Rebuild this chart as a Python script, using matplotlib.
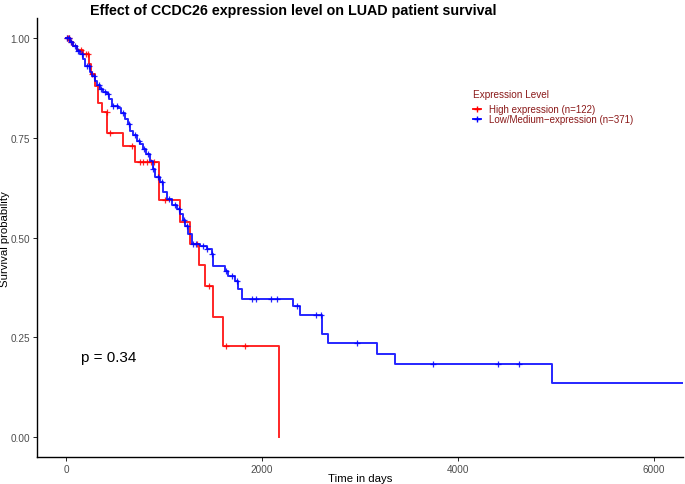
import numpy as np
import matplotlib
matplotlib.use("Agg")
import matplotlib.pyplot as plt
from matplotlib.lines import Line2D

plt.rcParams['font.family'] = ['Liberation Sans', 'DejaVu Sans']

# high expression group: event times (days) and survival after each step
high_t = [0, 41, 71, 112, 177, 237, 255, 296, 323, 364, 421, 584, 704,
          949, 1166, 1265, 1357, 1418, 1497, 1599, 2173]
high_s = [1.0, 0.99, 0.98, 0.97, 0.96, 0.935, 0.91, 0.88, 0.837, 0.815,
          0.762, 0.729, 0.690, 0.593, 0.540, 0.483, 0.431, 0.378, 0.302,
          0.228, 0.0]
high_cens = [8, 20, 35, 55, 150, 200, 220, 270, 415, 449, 670, 755, 790,
             830, 870, 900, 1010, 1333, 1462, 1633, 1827]

# low/medium expression group
low_t = [0, 41, 71, 109, 143, 177, 194, 245, 270, 296, 321, 347, 378, 415,
         439, 466, 534, 561, 602, 628, 653, 684, 721, 755, 789, 821, 857,
         883, 908, 959, 993, 1028, 1079, 1130, 1163, 1189, 1214, 1248, 1283,
         1367, 1436, 1487, 1503, 1622, 1656, 1724, 1758, 1793, 2319, 2388,
         2609, 2677, 3170, 3357, 4956]
low_s = [1.0, 0.989, 0.979, 0.968, 0.960, 0.947, 0.930, 0.914, 0.905, 0.893,
         0.882, 0.872, 0.865, 0.860, 0.847, 0.830, 0.824, 0.812, 0.797,
         0.784, 0.768, 0.757, 0.743, 0.734, 0.722, 0.709, 0.692, 0.672,
         0.651, 0.638, 0.613, 0.596, 0.581, 0.571, 0.559, 0.544, 0.530,
         0.509, 0.484, 0.479, 0.471, 0.459, 0.429, 0.417, 0.404, 0.392,
         0.371, 0.346, 0.328, 0.306, 0.258, 0.236, 0.208, 0.183, 0.137]
low_end = 6400
low_cens = [15, 30, 55, 90, 125, 160, 210, 230, 285, 335, 360, 400, 430,
            480, 520, 580, 640, 700, 740, 800, 840, 890, 940, 980, 1050,
            1110, 1150, 1200, 1230, 1300, 1330, 1400, 1436, 1487, 1633,
            1690, 1748, 1895, 1939, 2089, 2150, 2354, 2548, 2599, 2966,
            3748, 4411, 4626]

labels = ["High expression (n=122)", "Low/Medium\u2212expression (n=371)"]
colors = ["#FF0000", "#0000FF"]
pval = "p = 0.34"
legend_col = '#8B1A1A'


def surv_at(times, surv, x):
    idx = np.searchsorted(times, x, side='right') - 1
    return np.asarray(surv)[idx]


fig = plt.figure(figsize=(6.85, 4.85), dpi=100)
ax = fig.add_axes([0.0536, 0.055, 0.9434, 0.906])

curves = [(high_t, high_s, high_cens, high_t[-1]),
          (low_t, low_s, low_cens, low_end)]
for (t, s, cens, end), c in zip(curves, colors):
    tt = list(t) + [end]
    ss = list(s) + [s[-1]]
    ax.step(tt, ss, where='post', color=c, lw=1.4, alpha=0.85)
    ax.plot(cens, surv_at(t, s, cens), ls='none', marker='+', ms=4,
            mew=0.9, color=c, alpha=0.85)

ax.set_xlim(-299, 6296)
ax.set_ylim(-0.05, 1.05)
ax.set_xticks([0, 2000, 4000, 6000])
ax.set_yticks([0, 0.25, 0.5, 0.75, 1.0])
ax.set_yticklabels(["0.00", "0.25", "0.50", "0.75", "1.00"])
ax.tick_params(labelsize=7.2, labelcolor='#4D4D4D', length=3, width=0.6, pad=2)
for side in ['top', 'right']:
    ax.spines[side].set_visible(False)
for side in ['left', 'bottom']:
    ax.spines[side].set_linewidth(1.0)
ax.set_xlabel("Time in days", fontsize=8.2)
ax.set_ylabel("Survival probability", fontsize=8.2)
ax.xaxis.set_label_coords(0.5, -0.036)
ax.yaxis.set_label_coords(-0.041, 0.5)

ax.text(150, 0.2, pval, fontsize=11, va='center', ha='left')

fig.text(0.131, 0.977, "Effect of CCDC26 expression level on LUAD patient survival",
         fontsize=10.3, fontweight='bold', ha='left', va='center')

fig.text(0.6905, 1 - 95 / 485, "Expression Level", fontsize=7.2,
         color=legend_col, ha='left', va='center')
handles = [Line2D([0], [0], color=c, lw=1.3, marker='+', ms=4) for c in colors]
leg = ax.legend(handles, labels, fontsize=7, loc='upper left',
                bbox_to_anchor=(0.6905, 1 - 105 / 485),
                bbox_transform=fig.transFigure,
                frameon=False, handlelength=0.8, handletextpad=0.8,
                labelspacing=0.05, borderaxespad=0, borderpad=0,
                labelcolor=legend_col)

fig.savefig("out.png", dpi=100)
